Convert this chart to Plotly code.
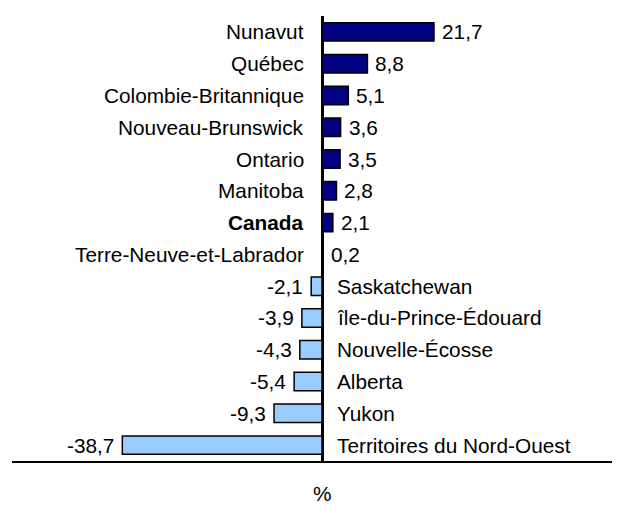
import plotly.graph_objects as go

categories = ["Nunavut", "Québec", "Colombie-Britannique", "Nouveau-Brunswick",
              "Ontario", "Manitoba", "Canada", "Terre-Neuve-et-Labrador",
              "Saskatchewan", "île-du-Prince-Édouard", "Nouvelle-Écosse",
              "Alberta", "Yukon", "Territoires du Nord-Ouest"]
values = [21.7, 8.8, 5.1, 3.6, 3.5, 2.8, 2.1, 0.2, -2.1, -3.9, -4.3, -5.4, -9.3, -38.7]
axis_title = "%"

POS = "#000080"
NEG = "#99CCFF"
FONT = "Arial, Liberation Sans, Helvetica, sans-serif"
FS = 20.8

colors = [POS if v >= 0 else NEG for v in values]

fig = go.Figure(go.Bar(
    x=values, y=categories, orientation="h",
    marker=dict(color=colors, line=dict(color="black", width=1.5)),
    hoverinfo="skip",
))

ann = []
for c, v in zip(categories, values):
    label = f"<b>{c}</b>" if c == "Canada" else c
    txt = f"{v:.1f}".replace(".", ",")
    if v >= 0:
        ann.append(dict(x=0, y=c, xref="x", yref="y", text=label, showarrow=False,
                        xanchor="right", xshift=-16, font=dict(size=FS, color="black", family=FONT)))
        ann.append(dict(x=v, y=c, xref="x", yref="y", text=txt, showarrow=False,
                        xanchor="left", xshift=6, font=dict(size=FS, color="black", family=FONT)))
    else:
        ann.append(dict(x=0, y=c, xref="x", yref="y", text=label, showarrow=False,
                        xanchor="left", xshift=13, font=dict(size=FS, color="black", family=FONT)))
        ann.append(dict(x=v, y=c, xref="x", yref="y", text=txt, showarrow=False,
                        xanchor="right", xshift=-6, font=dict(size=FS, color="black", family=FONT)))
ann.append(dict(x=0, y=-0.074, xref="x", yref="paper", text=axis_title, showarrow=False,
                xanchor="center", yanchor="middle", font=dict(size=FS, color="black", family=FONT)))

# page body has an 8px default margin; compensate so the chart sits as in the reference
fig.update_layout(
    width=612, height=511,
    margin=dict(l=4, r=0, t=8, b=58),
    paper_bgcolor="white", plot_bgcolor="white",
    showlegend=False,
    bargap=0.42,
    font=dict(family=FONT, size=FS, color="black"),
    annotations=ann,
    xaxis=dict(range=[-60.08, 57.75], showgrid=False, showticklabels=False, ticks="",
               zeroline=True, zerolinecolor="black", zerolinewidth=3,
               showline=True, linecolor="black", linewidth=2, fixedrange=True),
    yaxis=dict(autorange="reversed", showgrid=False, showticklabels=False, ticks="",
               zeroline=False, showline=False, fixedrange=True),
)

fig.write_html("out.html")
